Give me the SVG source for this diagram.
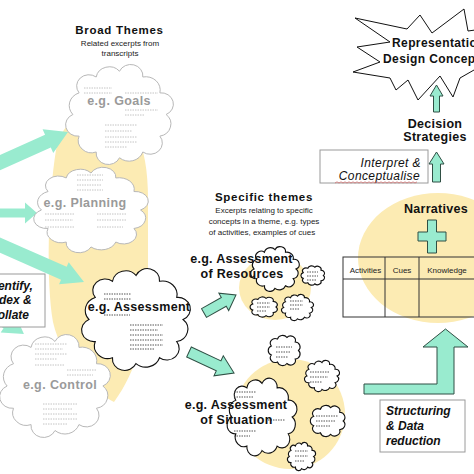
<svg xmlns="http://www.w3.org/2000/svg" xmlns:xlink="http://www.w3.org/1999/xlink" width="474" height="474" viewBox="0 0 474 474">
<style>
text{font-family:"Liberation Sans",Arial,sans-serif;}
.yel{fill:#FCEBB3;}
.ta{fill:#99EBCF;}
.tas{fill:#99EBCF;stroke:#2f4f44;stroke-width:1;}
.cg{fill:#fff;stroke:#b8b8b8;stroke-width:1;}
.ck{fill:#fff;stroke:#111;stroke-width:1.1;}
.dg{stroke:#c4c4c4;stroke-width:1;stroke-dasharray:1.5 1;}
.dk{stroke:#555;stroke-width:1;stroke-dasharray:1.5 1;}
.gt{font-weight:bold;font-size:12.5px;fill:#9a9a9a;text-anchor:middle;letter-spacing:0.4px;}
.bt{font-weight:bold;font-size:12.5px;fill:#111;text-anchor:middle;letter-spacing:0.3px;}
.hd{font-weight:bold;font-size:11.5px;fill:#111;text-anchor:middle;letter-spacing:0.7px;}
.sm{font-size:8px;fill:#222;text-anchor:middle;}
.bi{font-weight:bold;font-style:italic;font-size:12px;fill:#111;}
.it{font-style:italic;font-size:12px;fill:#111;text-anchor:end;letter-spacing:0.4px;}
.box{fill:#fff;stroke:#9a9a9a;stroke-width:1;}
</style>
<defs>
<path id="clA" vector-effect="non-scaling-stroke" d="M92,50 A12,12 0 0 1 86.4,71 A11,11 0 0 1 71,86.4 A13,13 0 0 1 50,92 A11,11 0 0 1 29,86.4 A12,12 0 0 1 13.6,71 A11,11 0 0 1 8,50 A13,13 0 0 1 13.6,29 A11,11 0 0 1 29,13.6 A12,12 0 0 1 50,8 A11,11 0 0 1 71,13.6 A13,13 0 0 1 86.4,29 A11,11 0 0 1 92,50 Z"/>
<path id="clB" vector-effect="non-scaling-stroke" d="M90,50 A15,15 0 0 1 80.6,75.7 A14,14 0 0 1 56.9,89.4 A15,15 0 0 1 30,84.6 A14,14 0 0 1 12.4,63.7 A15,15 0 0 1 12.4,36.3 A14,14 0 0 1 30,15.4 A15,15 0 0 1 56.9,10.6 A14,14 0 0 1 80.6,24.3 A15,15 0 0 1 90,50 Z"/>
</defs>
<rect width="474" height="474" fill="#fff"/>

<g id="backgrounds">
<path class="yel" d="M100,112 C132,112 148,140 148,200 L148,265 C150,330 136,372 114,402 C95,392 62,362 53,322 C46,282 48,200 56,150 C62,122 80,112 100,112 Z"/>
<ellipse class="yel" cx="275" cy="288" rx="36" ry="32"/>
<circle class="yel" cx="290" cy="414" r="55"/>
<ellipse class="yel" cx="438" cy="258" rx="80" ry="65"/>
</g>

<g id="connectors">
<polygon class="ta" transform="translate(-12,168) rotate(-24.2)" points="0,-7 65.7,-7 65.7,-13 87.7,0 65.7,13 65.7,7 0,7"/>
<polygon class="ta" transform="translate(-5,213)" points="0,-4.5 30,-4.5 30,-10.5 42,0 30,10.5 30,4.5 0,4.5"/>
<polygon class="ta" transform="translate(-5,243) rotate(23.7)" points="0,-7 75.2,-7 75.2,-12 97.2,0 75.2,12 75.2,7 0,7"/>
<polygon class="ta" transform="translate(-25,300) rotate(34.8)" points="0,-7 39.6,-7 39.6,-12 59.6,0 39.6,12 39.6,7 0,7"/>
<polygon class="tas" transform="translate(204,313) rotate(-29.4)" points="0,-5 22.7,-5 22.7,-10 36.7,0 22.7,10 22.7,5 0,5"/>
<polygon class="tas" transform="translate(189,352) rotate(25)" points="0,-5.5 32.7,-5.5 32.7,-11 49.7,0 32.7,11 32.7,5.5 0,5.5"/>
<polygon class="tas" points="436.5,85 443,96 439.5,96 439.5,112 433.5,112 433.5,96 430,96"/>
<polygon class="tas" points="436.5,152 444,164 440.5,164 440.5,182 432.5,182 432.5,164 429,164"/>
<polygon class="tas" points="445.5,329 468,347 454,347 454,394 364,394 364,384 437,384 437,347 423,347"/>
<polygon class="tas" points="427.5,220 436.5,220 436.5,232 446,232 446,241 436.5,241 436.5,253 427.5,253 427.5,241 418,241 418,232 427.5,232"/>
</g>

<g id="broad-title">
<text class="hd" x="119.5" y="34">Broad Themes</text>
<text class="sm" x="120" y="46">Related excerpts from</text>
<text class="sm" x="120" y="56">transcripts</text>
</g>

<g id="goals">
<use href="#clA" class="cg" transform="translate(64,63) scale(1.11,1.03)"/>
<path class="dg" d="M84,88h28M84,93h28M125,93h33M125,110h33M125,115h20M105,125h32M105,131h27M105,137h32M105,142h32M105,147h22"/>
<text class="gt" x="119" y="105">e.g. Goals</text>
</g>

<g id="planning">
<use href="#clA" class="cg" transform="translate(32,166) scale(1.18,0.88)"/>
<path class="dg" d="M77,175h26M77,180h26M77,185h24M77,190h26M45,214h30M97,214h30M45,220h28M97,220h30M45,227h30M97,227h26"/>
<text class="gt" x="85" y="207">e.g. Planning</text>
</g>

<g id="identify">
<rect class="box" x="-30" y="274" width="75" height="53"/>
<text class="bi" x="10" y="290" text-anchor="middle">Identify,</text>
<text class="bi" x="10" y="304" text-anchor="middle">index &amp;</text>
<text class="bi" x="10" y="319" text-anchor="middle">collate</text>
</g>

<g id="control">
<use href="#clA" class="cg" transform="translate(-2,333) scale(1.14,1.06)"/>
<path class="dg" d="M35,344h32M35,349h28M35,354h32M35,359h22M35,365h30M67,370h30M67,375h26M43,404h34M43,409h30M43,414h34M43,419h34M43,424h24"/>
<text class="gt" x="60" y="389">e.g. Control</text>
</g>

<g id="assessment">
<use href="#clA" class="ck" transform="translate(80,267) scale(1.12,1.05)"/>
<path class="dk" d="M104,294h27M104,299h27M104,315h26M130,325h33M130,330h28M130,335h33M130,340h33M130,345h33M130,349h24"/>
<text class="bt" x="139" y="311">e.g. Assessment</text>
</g>

<g id="specific-title">
<text class="hd" x="264" y="201">Specific themes</text>
<text class="sm" x="264" y="213">Excerpts relating to specific</text>
<text class="sm" x="264" y="224">concepts in a theme, e.g. types</text>
<text class="sm" x="262" y="235">of activities, examples of cues</text>
</g>

<g id="resources">
<use href="#clA" class="ck" transform="translate(250,246) scale(0.5,0.46)"/>
<use href="#clB" class="ck" transform="translate(300,265) scale(0.26,0.21)"/>
<use href="#clB" class="ck" transform="translate(249,296) scale(0.30,0.22)"/>
<use href="#clA" class="ck" transform="translate(281,294) scale(0.33,0.27)"/>
<path class="dk" d="M307,272h11M307,276h11M307,280h9M257,303h13M257,307h13M257,311h10M290,301h13M290,305h13M290,309h10"/>
<text class="bt" x="241.5" y="263">e.g. Assessment</text>
<text class="bt" x="242" y="278">of Resources</text>
</g>

<g id="situation">
<use href="#clA" class="ck" transform="translate(226,377) scale(0.72,0.80)"/>
<use href="#clB" class="ck" transform="translate(267,334) scale(0.35,0.33)"/>
<use href="#clA" class="ck" transform="translate(304,360) scale(0.36,0.32)"/>
<use href="#clB" class="ck" transform="translate(309,404) scale(0.38,0.34)"/>
<use href="#clA" class="ck" transform="translate(287,442) scale(0.29,0.29)"/>
<path class="dk" d="M234,392h22M234,397h20M234,431h22M234,436h16M268,420h17M276,347h16M276,352h14M276,357h12M310,372h20M310,377h18M310,382h12M316,416h22M316,421h20M316,426h14M295,451h13M295,456h13M295,461h10"/>
<text class="bt" x="236" y="409">e.g. Assessment</text>
<text class="bt" x="236.5" y="424">of Situation</text>
</g>

<g id="representation">
<polygon fill="#fff" stroke="#111" stroke-width="1" points="355,18 407,29 420,15 432,33 464,9 468,31 490,28 490,75 474,70 460,78 453,97 440,76 418,100 408,80 396,90 390,78 353,72 380,62 357,47 390,42"/>
<text font-weight="bold" font-size="12px" fill="#111" letter-spacing="0.4" x="392" y="47">Representation</text>
<text font-weight="bold" font-size="12px" fill="#111" letter-spacing="0.4" x="383" y="63">Design Concepts</text>
</g>

<g id="decision">
<text class="bt" x="435" y="128" font-size="12px">Decision</text>
<text class="bt" x="435" y="141" font-size="12px">Strategies</text>
</g>

<g id="interpret">
<rect class="box" x="320" y="150" width="108" height="33"/>
<text class="it" x="421" y="167">Interpret &amp;</text>
<text class="it" x="420" y="180">Conceptualise</text>
<path d="M335,183 l2,-1.2 2,1.2 2,-1.2 2,1.2 2,-1.2 2,1.2 2,-1.2 2,1.2 2,-1.2 2,1.2 2,-1.2 2,1.2 2,-1.2 2,1.2 2,-1.2 2,1.2 2,-1.2 2,1.2 2,-1.2 2,1.2 2,-1.2 2,1.2 2,-1.2 2,1.2 2,-1.2 2,1.2 2,-1.2 2,1.2 2,-1.2 2,1.2 2,-1.2 2,1.2 2,-1.2 2,1.2 2,-1.2 2,1.2 2,-1.2 2,1.2 2,-1.2 2,1.2 2,-1.2" fill="none" stroke="#d06060" stroke-width="0.7"/>
</g>

<g id="narratives">
<text class="bt" x="436" y="213" font-size="11.5px">Narratives</text>
<rect x="343" y="257" width="140" height="60" fill="none" stroke="#333" stroke-width="1"/>
<path d="M343,279H483M385,257V317M419,257V317" stroke="#333" stroke-width="1" fill="none"/>
<text class="sm" x="365.5" y="273">Activities</text>
<text class="sm" x="402" y="273">Cues</text>
<text class="sm" x="447" y="273">Knowledge</text>
</g>

<g id="structuring">
<rect class="box" x="380" y="400" width="85" height="52"/>
<text class="bi" x="386" y="415">Structuring</text>
<text class="bi" x="386" y="430">&amp; Data</text>
<text class="bi" x="386" y="445">reduction</text>
</g>
</svg>
